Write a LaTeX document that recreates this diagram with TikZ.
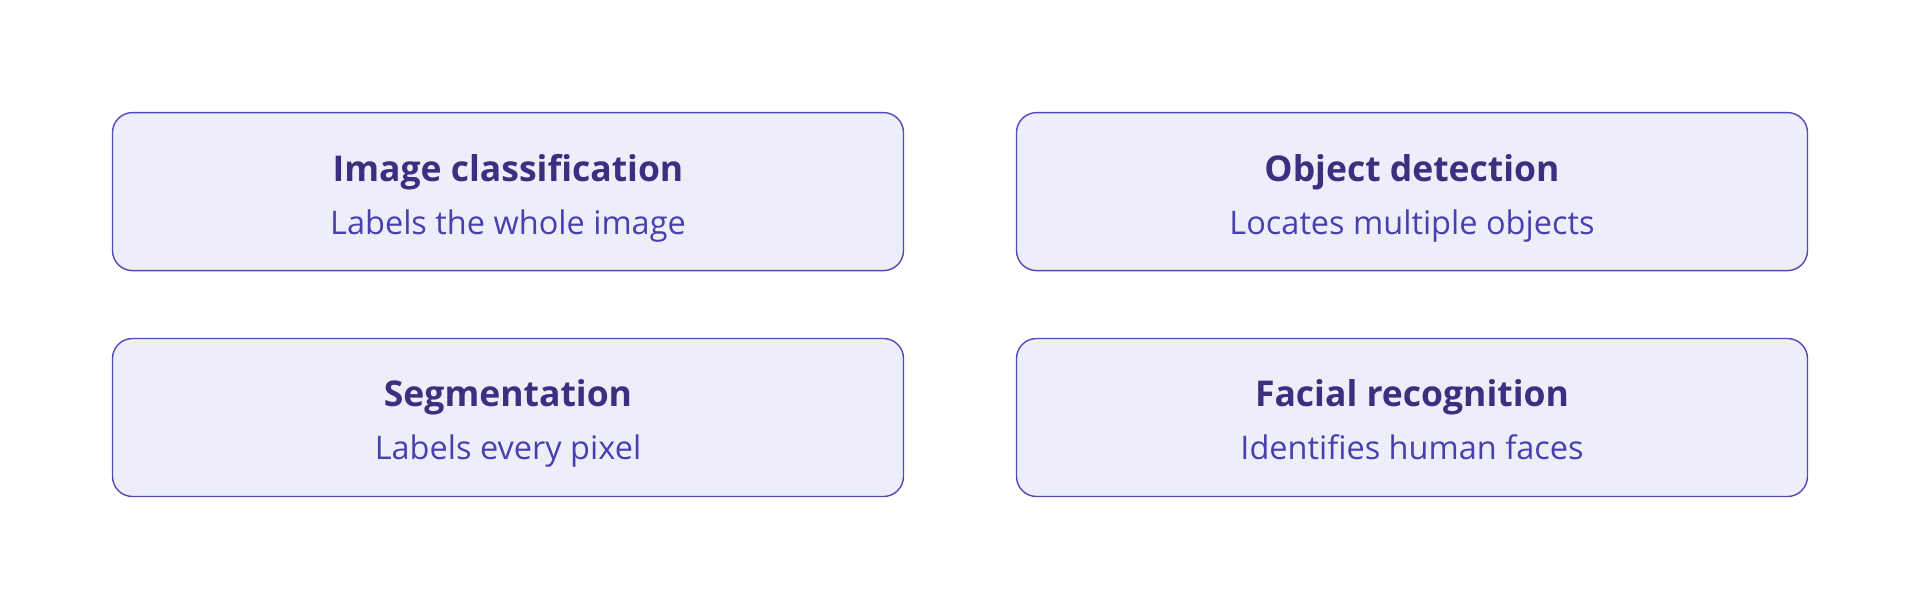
\documentclass[tikz,border=0pt]{standalone}
\usepackage{fontspec}
\setmainfont{Open Sans}
\definecolor{bordercol}{HTML}{5548B8}
\definecolor{fillcol}{HTML}{EEEEFB}
\definecolor{titlecol}{HTML}{3B2F80}
\definecolor{subcol}{HTML}{4B3FAE}
\tikzset{
  card/.style={draw=bordercol, fill=fillcol, line width=1.4pt, rounded corners=20pt,
    minimum width=791pt, minimum height=158pt, inner sep=0pt},
  ttl/.style={anchor=base, text=titlecol, font=\fontsize{35.5}{40}\selectfont\bfseries, inner sep=0pt},
  sub/.style={anchor=base, text=subcol, font=\fontsize{32.5}{34}\selectfont, inner sep=0pt}
}
\begin{document}
\begin{tikzpicture}[x=1pt,y=-1pt]
\useasboundingbox (0,0) rectangle (1920,610);
\node[card] (b1) at (508,191.6) {};
\node[card] (b2) at (1412,191.6) {};
\node[card] (b3) at (508,417.5) {};
\node[card] (b4) at (1412,417.5) {};
\node[ttl] (t1) at (508,181) {Image classification};
\node[sub] (s1) at (508,234) {Labels the whole image};
\node[ttl] (t2) at (1412,181) {Object detection};
\node[sub] (s2) at (1412,234) {Locates multiple objects};
\node[ttl] (t3) at (508,406.5) {Segmentation};
\node[sub] (s3) at (508,459.5) {Labels every pixel};
\node[ttl] (t4) at (1412,406.5) {Facial recognition};
\node[sub] (s4) at (1412,459.5) {Identifies human faces};
\end{tikzpicture}
\end{document}
